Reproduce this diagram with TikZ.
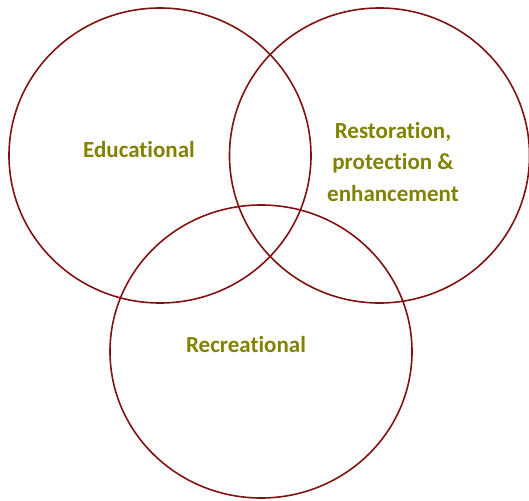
\documentclass[tikz,border=0pt]{standalone}
\usepackage{fontspec}
\setmainfont{Carlito}[Ligatures=NoCommon]
\definecolor{ringred}{RGB}{128,18,18}
\definecolor{labelolive}{RGB}{130,130,0}
\tikzset{
  ring/.style={draw=ringred, line width=1.6pt},
  lbl/.style={text=labelolive, font=\bfseries\fontsize{23}{31.5}\selectfont, align=center}
}
\begin{document}
\begin{tikzpicture}[x=1pt,y=-1pt]
      \useasboundingbox (0,0) rectangle (529,500);
      \draw[ring] (160,155.5) ellipse (151 and 147.5);
      \draw[ring] (379.5,155.5) ellipse (150 and 147.5);
      \draw[ring] (261,351.5) ellipse (151 and 146.5);
      \draw
        (139,150) node[lbl] (edu){Educational}
        (393,162) node[lbl] (rest){Restoration,\\protection \&\\enhancement}
        (246,345) node[lbl] (rec){Recreational};
    \end{tikzpicture}
\end{document}
